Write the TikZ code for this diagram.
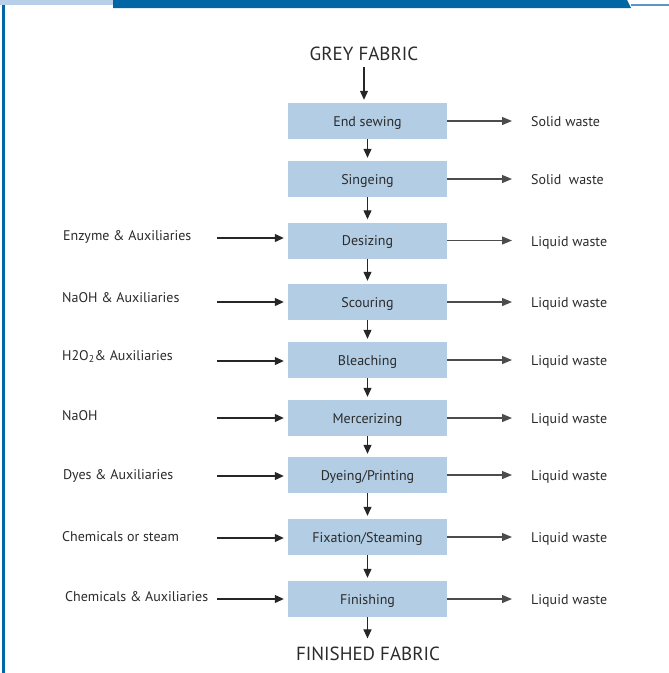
\documentclass[tikz,border=0pt]{standalone}
\usepackage{fontspec}
\setmainfont{PT Sans}
\usetikzlibrary{arrows.meta}
\definecolor{boxblue}{HTML}{B2CDE4}
\definecolor{txt}{HTML}{2B2B2B}
\definecolor{barblue}{HTML}{0066A6}
\definecolor{tabblue}{HTML}{B7CFE8}
\definecolor{lineblue}{HTML}{5A97C6}
\begin{document}
\begin{tikzpicture}[x=1pt,y=-1pt,
  stepbox/.style={fill=boxblue, minimum width=159pt, minimum height=36pt, inner sep=0pt, text=txt, text height=10pt, text depth=0pt, font=\fontsize{14}{16}\selectfont},
  lbl/.style={anchor=base west, text=txt, font=\fontsize{14}{16}\selectfont, inner sep=0pt},
  ttl/.style={text=txt, font=\fontsize{19}{22}\selectfont, inner sep=0pt},
  arr/.style={-{Triangle[length=9pt,width=8pt]}, line width=1.1pt, draw=black!85},
  rarr/.style={-{Triangle[length=10pt,width=8pt]}, line width=1.2pt, draw=black!70, shorten >=19pt},
]
\useasboundingbox (0,0) rectangle (669,673);
% frame
\fill[tabblue] (0,0) rectangle (113,5);
\fill[barblue] (113,0) -- (627,0) -- (631,8) -- (113,8) -- cycle;
\fill[lineblue] (631,4) rectangle (669,5.8);
\fill[barblue] (2,5) rectangle (5,673);

% titles
\node[ttl] (grey) at (364,53.5) {GREY FABRIC};
\node[ttl] (fin) at (368,653.5) {FINISHED FABRIC};

% process boxes
\node[stepbox] (b1) at (367.5,121) {End sewing};
\node[stepbox] (b2) at (367.5,179) {Singeing};
\node[stepbox] (b3) at (367.5,240.5) {Desizing};
\node[stepbox] (b4) at (367.5,302) {Scouring};
\node[stepbox] (b5) at (367.5,360) {Bleaching};
\node[stepbox] (b6) at (367.5,418) {Mercerizing};
\node[stepbox] (b7) at (367.5,475) {Dyeing/Printing};
\node[stepbox] (b8) at (367.5,537) {Fixation/Steaming};
\node[stepbox] (b9) at (367.5,599) {Finishing};

% main flow
\draw[arr, shorten <=6pt, shorten >=3pt] (grey.south) -- (grey.south |- b1.north);
\foreach \a/\b in {b1/b2,b2/b3,b3/b4,b4/b5,b5/b6,b6/b7,b7/b8,b8/b9}
  \draw[arr, shorten >=3pt] (\a.south) -- (\b.north);
\draw[arr, shorten >=8pt] (b9.south) -- (b9.south |- fin.north);

% inputs
\node[lbl] (i3) at (63,240) {Enzyme \& Auxiliaries};
\node[lbl] (i4) at (62,302) {NaOH \& Auxiliaries};
\node[lbl] (i5) at (62,360.5) {H2O\textsubscript{2}\& Auxiliaries};
\node[lbl] (i6) at (62,420) {NaOH};
\node[lbl] (i7) at (63,479.5) {Dyes \& Auxiliaries};
\node[lbl] (i8) at (62,541.5) {Chemicals or steam};
\node[lbl] (i9) at (65,601) {Chemicals \& Auxiliaries};
\coordinate (c3) at (217,238);
\coordinate (c4) at (217,302);
\coordinate (c5) at (217,361);
\coordinate (c6) at (217,418);
\coordinate (c7) at (217,476);
\coordinate (c8) at (217,538);
\coordinate (c9) at (217,599);
\foreach \i in {3,...,9}
  \draw[arr, shorten >=4pt] (c\i) -- (c\i -| b\i.west);

% wastes
\node[lbl] (w1) at (531,126.5) {Solid waste};
\node[lbl] (w2) at (531,184.5) {Solid\ \ waste};
\node[lbl] (w3) at (531,246) {Liquid waste};
\node[lbl] (w4) at (531,307.5) {Liquid waste};
\node[lbl] (w5) at (531,365.5) {Liquid waste};
\node[lbl] (w6) at (531,423.5) {Liquid waste};
\node[lbl] (w7) at (531,480.5) {Liquid waste};
\node[lbl] (w8) at (531,542.5) {Liquid waste};
\node[lbl] (w9) at (531,604.5) {Liquid waste};
\foreach \i in {1,...,9}
  \draw[rarr] (b\i.east) -- (b\i.east -| w\i.west);
\end{tikzpicture}
\end{document}
